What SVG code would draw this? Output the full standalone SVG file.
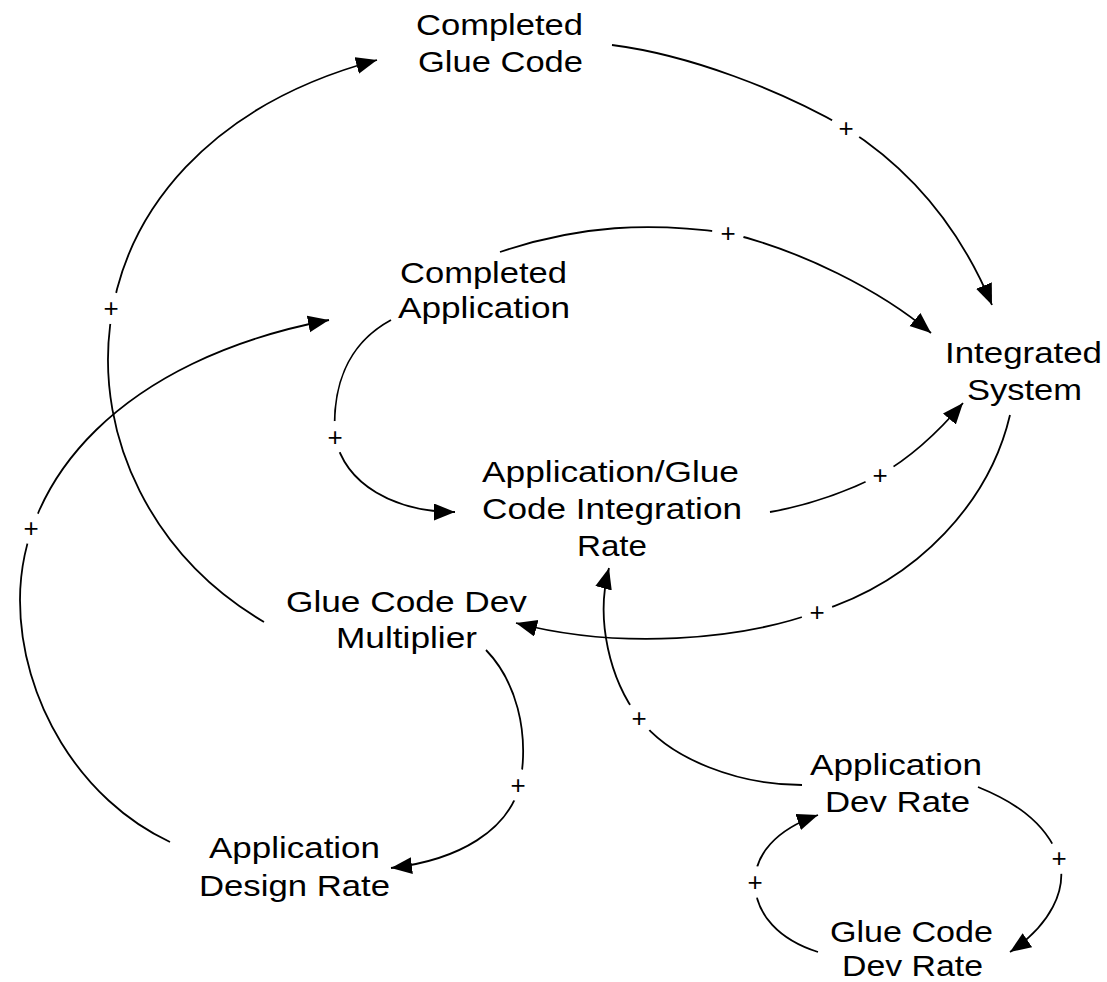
<svg xmlns="http://www.w3.org/2000/svg" width="1107" height="982" viewBox="0 0 1107 982">
<style>
.lbl{font-family:"Liberation Sans",Arial,sans-serif;font-size:30px;fill:#000;text-anchor:middle}
.link{fill:none;stroke:#000;stroke-width:1.8;marker-end:url(#ah)}
.pol{font-family:"Liberation Sans",Arial,sans-serif;font-size:26px;fill:#000;text-anchor:middle}
</style>
<defs>
<marker id="ah" markerUnits="userSpaceOnUse" markerWidth="24" markerHeight="18" refX="21" refY="8.5" orient="auto">
<path d="M0,0 L21,8.5 L0,17 z" fill="#000"/>
</marker>
<mask id="gaps" maskUnits="userSpaceOnUse" x="0" y="0" width="1107" height="982">
<rect width="1107" height="982" fill="#fff"/>
<circle cx="111" cy="308" r="16" fill="#000"/>
<circle cx="31" cy="528" r="16" fill="#000"/>
<circle cx="335" cy="437" r="16" fill="#000"/>
<circle cx="728" cy="233" r="16" fill="#000"/>
<circle cx="846" cy="128" r="16" fill="#000"/>
<circle cx="880" cy="475" r="16" fill="#000"/>
<circle cx="817" cy="612" r="16" fill="#000"/>
<circle cx="639" cy="718" r="16" fill="#000"/>
<circle cx="518" cy="785" r="16" fill="#000"/>
<circle cx="1059" cy="858" r="16" fill="#000"/>
<circle cx="755" cy="882" r="16" fill="#000"/>
</mask>
</defs>
<rect width="1107" height="982" fill="#fff"/>
<g id="connectors">
<g mask="url(#gaps)">
<path class="link" d="M264,622 C40,490 40,150 377,60"/>
<path class="link" d="M170,842 C80,800 20,700 20,600 C20,480 120,360 329,320"/>
<path class="link" d="M391,320 C345,345 332,390 335,437 C345,485 395,512 455,512"/>
<path class="link" d="M500,252 C580,225 650,222 728,233 C800,250 880,290 931,333"/>
<path class="link" d="M612,45 C690,55 780,90 846,128 C920,175 965,240 992,305"/>
<path class="link" d="M770,512 C810,505 850,490 880,475 C910,458 940,430 963,403"/>
<path class="link" d="M1010,415 C990,500 920,580 817,612 C740,640 620,650 516,623"/>
<path class="link" d="M802,785 C740,785 670,760 639,718 C610,680 595,620 609,568"/>
<path class="link" d="M486,650 C515,680 530,730 520,785 C508,830 460,860 391,868"/>
<path class="link" d="M978,787 C1010,800 1045,820 1059,858 C1068,890 1050,925 1010,952"/>
<path class="link" d="M818,952 C780,940 755,915 755,882 C755,855 775,830 818,815"/>
</g>
<text class="pol" x="111" y="317">+</text>
<text class="pol" x="31" y="537">+</text>
<text class="pol" x="335" y="446">+</text>
<text class="pol" x="728" y="242">+</text>
<text class="pol" x="846" y="137">+</text>
<text class="pol" x="880" y="484">+</text>
<text class="pol" x="817" y="621">+</text>
<text class="pol" x="639" y="727">+</text>
<text class="pol" x="518" y="794">+</text>
<text class="pol" x="1059" y="867">+</text>
<text class="pol" x="755" y="891">+</text>
</g>
<g id="completed-glue-code">
<text class="lbl" x="499.5" y="35" textLength="167" lengthAdjust="spacingAndGlyphs">Completed</text>
<text class="lbl" x="500.5" y="72" textLength="165" lengthAdjust="spacingAndGlyphs">Glue Code</text>
</g>
<g id="completed-application">
<text class="lbl" x="483.5" y="283" textLength="167" lengthAdjust="spacingAndGlyphs">Completed</text>
<text class="lbl" x="484" y="318" textLength="172" lengthAdjust="spacingAndGlyphs">Application</text>
</g>
<g id="integrated-system">
<text class="lbl" x="1023.5" y="363" textLength="157" lengthAdjust="spacingAndGlyphs">Integrated</text>
<text class="lbl" x="1024.5" y="400" textLength="115" lengthAdjust="spacingAndGlyphs">System</text>
</g>
<g id="integration-rate">
<text class="lbl" x="610.5" y="482" textLength="257" lengthAdjust="spacingAndGlyphs">Application/Glue</text>
<text class="lbl" x="612" y="519" textLength="260" lengthAdjust="spacingAndGlyphs">Code Integration</text>
<text class="lbl" x="612" y="556" textLength="70" lengthAdjust="spacingAndGlyphs">Rate</text>
</g>
<g id="glue-code-dev-multiplier">
<text class="lbl" x="406.5" y="612" textLength="241" lengthAdjust="spacingAndGlyphs">Glue Code Dev</text>
<text class="lbl" x="406.5" y="648" textLength="141" lengthAdjust="spacingAndGlyphs">Multiplier</text>
</g>
<g id="application-design-rate">
<text class="lbl" x="294.5" y="858" textLength="171" lengthAdjust="spacingAndGlyphs">Application</text>
<text class="lbl" x="294.5" y="896" textLength="191" lengthAdjust="spacingAndGlyphs">Design Rate</text>
</g>
<g id="application-dev-rate">
<text class="lbl" x="896" y="775" textLength="172" lengthAdjust="spacingAndGlyphs">Application</text>
<text class="lbl" x="897.5" y="812" textLength="145" lengthAdjust="spacingAndGlyphs">Dev Rate</text>
</g>
<g id="glue-code-dev-rate">
<text class="lbl" x="911.5" y="942" textLength="163" lengthAdjust="spacingAndGlyphs">Glue Code</text>
<text class="lbl" x="912.5" y="976" textLength="141" lengthAdjust="spacingAndGlyphs">Dev Rate</text>
</g>
</svg>
